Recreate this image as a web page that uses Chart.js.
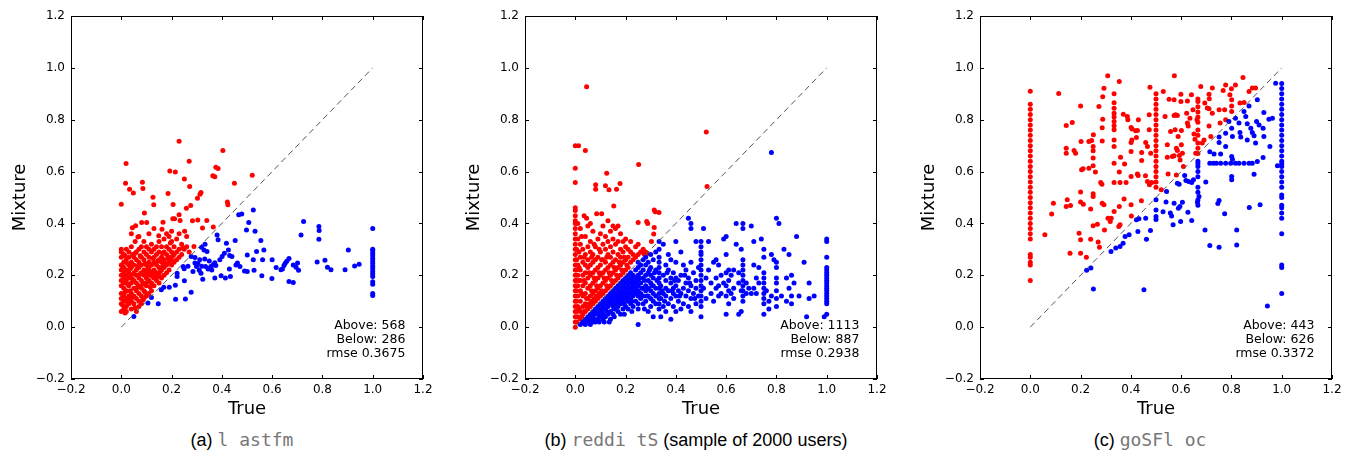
<!DOCTYPE html>
<html>
<head>
<meta charset="utf-8">
<script src="https://cdn.jsdelivr.net/npm/chart.js@4.4.1/dist/chart.umd.min.js"></script>
<style>
  body { margin: 0; background: #fff; overflow: hidden; }
  #page { position: relative; width: 1346px; height: 457px; }
  canvas { position: absolute; top: 0; }
  .cap { position: absolute; top: 429px; line-height: 24px; font: 18px "Liberation Sans", Arial, sans-serif; color: #000; transform: translateX(-50%); white-space: nowrap; }
  .cap .mono { font-family: "DejaVu Sans Mono", monospace; color: #777; font-weight: 300; }
</style>
</head>
<body>
<div id="page">
  <canvas id="chartA" width="450" height="425" style="left:0px"></canvas>
  <canvas id="chartB" width="450" height="425" style="left:454px"></canvas>
  <canvas id="chartC" width="450" height="425" style="left:909px"></canvas>
  <div class="cap" style="left:242px">(a) <span class="mono">l astfm</span></div>
  <div class="cap" style="left:696px">(b) <span class="mono">reddi tS</span> (sample of 2000 users)</div>
  <div class="cap" style="left:1150px">(c) <span class="mono">goSFl oc</span></div>
</div>
<script>
// axis ticks shared by all three panels
const tickValues = [-0.2, 0.0, 0.2, 0.4, 0.6, 0.8, 1.0, 1.2];
const diagonal = [0, 1];

const lastfmStats = ["Above: 568", "Below: 286", "rmse 0.3675"];
const redditStats = ["Above: 1113", "Below: 887", "rmse 0.2938"];
const locStats = ["Above: 443", "Below: 626", "rmse 0.3372"];

// (a) lastfm - points above the diagonal (red)
const lastfmAbove = [
  [0.00,0.06],[0.00,0.09],[0.00,0.11],[0.00,0.13],[0.00,0.16],[0.00,0.18],[0.00,0.20],[0.00,0.22],[0.00,0.24],[0.00,0.27],[0.00,0.29],[0.00,0.30],
  [0.01,0.07],[0.01,0.10],[0.01,0.12],[0.01,0.15],[0.01,0.17],[0.01,0.19],[0.01,0.21],[0.01,0.23],[0.01,0.25],[0.01,0.28],
  [0.02,0.06],[0.02,0.08],[0.02,0.11],[0.02,0.14],[0.02,0.18],[0.02,0.20],[0.02,0.22],[0.02,0.26],[0.02,0.30],
  [0.03,0.09],[0.03,0.12],[0.03,0.16],[0.03,0.19],[0.03,0.21],[0.03,0.24],[0.03,0.27],[0.03,0.29],[0.035,0.14],
  [0.04,0.07],[0.04,0.10],[0.04,0.13],[0.04,0.17],[0.04,0.20],[0.04,0.23],[0.04,0.25],[0.04,0.31],[0.045,0.28],
  [0.05,0.09],[0.05,0.12],[0.05,0.15],[0.05,0.18],[0.05,0.21],[0.05,0.24],[0.05,0.27],[0.055,0.33],
  [0.06,0.06],[0.06,0.11],[0.06,0.14],[0.06,0.17],[0.06,0.20],[0.06,0.22],[0.06,0.26],[0.06,0.29],
  [0.07,0.08],[0.07,0.10],[0.07,0.13],[0.07,0.16],[0.07,0.19],[0.07,0.23],[0.07,0.25],[0.07,0.30],[0.07,0.35],
  [0.08,0.09],[0.08,0.12],[0.08,0.15],[0.08,0.18],[0.08,0.21],[0.08,0.24],[0.08,0.27],[0.08,0.31],
  [0.09,0.11],[0.09,0.14],[0.09,0.17],[0.09,0.20],[0.09,0.22],[0.09,0.26],[0.09,0.29],[0.09,0.33],
  [0.10,0.12],[0.10,0.16],[0.10,0.19],[0.10,0.21],[0.10,0.24],[0.10,0.28],[0.10,0.31],
  [0.11,0.13],[0.11,0.18],[0.11,0.20],[0.11,0.23],[0.11,0.25],[0.11,0.27],[0.11,0.30],
  [0.12,0.14],[0.12,0.17],[0.12,0.21],[0.12,0.24],[0.12,0.29],[0.12,0.32],
  [0.13,0.16],[0.13,0.19],[0.13,0.22],[0.13,0.25],[0.13,0.27],[0.13,0.30],
  [0.14,0.18],[0.14,0.21],[0.14,0.24],[0.14,0.28],[0.14,0.31],
  [0.15,0.17],[0.15,0.20],[0.15,0.23],[0.15,0.26],[0.15,0.29],[0.15,0.33],
  [0.16,0.19],[0.16,0.22],[0.16,0.25],[0.16,0.27],[0.16,0.31],
  [0.17,0.20],[0.17,0.23],[0.17,0.26],[0.17,0.29],[0.17,0.34],
  [0.18,0.21],[0.18,0.24],[0.18,0.28],[0.18,0.31],[0.18,0.36],
  [0.19,0.22],[0.19,0.25],[0.19,0.27],[0.19,0.30],
  [0.20,0.24],[0.20,0.26],[0.20,0.29],[0.20,0.33],[0.20,0.37],
  [0.21,0.25],[0.21,0.28],[0.21,0.31],[0.22,0.26],[0.22,0.29],[0.22,0.34],
  [0.23,0.27],[0.23,0.30],[0.24,0.28],[0.24,0.32],[0.25,0.30],[0.26,0.31],[0.27,0.29],[0.26,0.35],
  [0.005,0.085],[0.015,0.135],[0.025,0.165],[0.005,0.235],[0.015,0.275],[0.025,0.245],[0.035,0.105],[0.045,0.185],
  [0.055,0.075],[0.065,0.155],[0.075,0.205],[0.085,0.105],[0.095,0.245],[0.105,0.175],[0.115,0.215],[0.125,0.265],
  [0.135,0.205],[0.145,0.255],[0.155,0.215],[0.165,0.285],[0.175,0.245],[0.185,0.265],[0.195,0.325],[0.205,0.275],
  [0.015,0.055],[0.035,0.225],[0.055,0.285],[0.075,0.275],[0.095,0.135],[0.045,0.115],[0.025,0.095],[0.065,0.235],
  [0.085,0.165],[0.105,0.225],[0.115,0.155],[0.125,0.195],[0.145,0.195],[0.165,0.235],
  [0.0,0.474],[0.019,0.631],[0.017,0.555],[0.033,0.532],[0.048,0.517],[0.084,0.559],[0.086,0.535],[0.092,0.44],
  [0.126,0.501],[0.129,0.472],[0.23,0.717],[0.193,0.602],[0.215,0.598],[0.186,0.515],[0.206,0.473],[0.251,0.571],
  [0.27,0.64],[0.272,0.542],[0.259,0.459],[0.276,0.469],[0.303,0.497],[0.313,0.513],[0.317,0.519],[0.364,0.584],
  [0.372,0.58],[0.376,0.617],[0.385,0.612],[0.404,0.681],[0.422,0.483],[0.424,0.472],[0.45,0.555],[0.521,0.586],
  [0.23,0.433],[0.234,0.411],[0.166,0.405],[0.162,0.378],[0.149,0.352],[0.283,0.41],[0.304,0.413],[0.34,0.411],
  [0.323,0.382],[0.366,0.386],[0.289,0.311],[0.252,0.37],[0.245,0.305],[0.044,0.383],[0.057,0.391],[0.081,0.404],
  [0.101,0.404],[0.066,0.348],[0.205,0.418],[0.212,0.418],[0.04,0.36],[0.11,0.36],[0.13,0.38],[0.19,0.35],[0.23,0.36]
];

// (a) lastfm - points below the diagonal (blue)
const lastfmBelow = [
  [0.05,0.041],[0.106,0.093],[0.147,0.09],[0.12,0.114],[0.159,0.144],[0.169,0.154],[0.191,0.154],[0.215,0.162],
  [0.216,0.108],[0.255,0.109],[0.278,0.135],[0.251,0.179],[0.222,0.208],[0.222,0.195],[0.246,0.234],[0.25,0.225],
  [0.278,0.272],[0.293,0.269],[0.293,0.247],[0.312,0.26],[0.299,0.234],[0.31,0.219],[0.317,0.208],[0.324,0.185],
  [0.319,0.308],[0.333,0.32],[0.329,0.298],[0.341,0.292],[0.332,0.263],[0.335,0.234],[0.345,0.224],[0.356,0.234],
  [0.365,0.24],[0.385,0.337],[0.381,0.355],[0.372,0.248],[0.376,0.238],[0.372,0.19],[0.392,0.26],[0.401,0.272],
  [0.41,0.285],[0.418,0.324],[0.426,0.298],[0.431,0.276],[0.44,0.272],[0.397,0.198],[0.414,0.19],[0.43,0.224],
  [0.434,0.195],[0.453,0.334],[0.467,0.433],[0.479,0.436],[0.456,0.24],[0.462,0.247],[0.472,0.234],[0.49,0.217],
  [0.501,0.215],[0.498,0.375],[0.507,0.404],[0.501,0.278],[0.525,0.452],[0.532,0.37],[0.538,0.292],[0.525,0.26],
  [0.528,0.219],[0.555,0.334],[0.559,0.198],[0.567,0.298],[0.562,0.26],[0.6,0.26],[0.599,0.188],[0.616,0.23],
  [0.635,0.221],[0.641,0.224],[0.647,0.238],[0.652,0.246],[0.658,0.254],[0.667,0.265],[0.667,0.176],[0.684,0.172],
  [0.684,0.24],[0.695,0.231],[0.701,0.247],[0.705,0.219],[0.715,0.355],[0.725,0.407],[0.779,0.251],[0.786,0.388],
  [0.787,0.373],[0.786,0.339],[0.81,0.258],[0.82,0.231],[0.834,0.221],[0.89,0.221],[0.903,0.298],[0.928,0.236],
  [0.946,0.243],[0.265,0.235],[0.285,0.215],[0.305,0.245],[0.32,0.235],[0.35,0.255],[0.36,0.22]
];
const lastfmBelowAtOne = [0.38,0.30,0.295,0.285,0.275,0.265,0.255,0.245,0.235,0.225,0.215,0.205,0.195,0.175,0.165,0.13,0.122];

// (b) redditS - above (red)
const redditAboveAtZero = [0.0,0.02,0.04,0.06,0.08,0.10,0.12,0.14,0.16,0.18,0.20,0.22,0.24,0.26,0.28,0.30,0.32,0.34,0.36,0.38,0.40,0.41,0.43,0.45,0.46];
const redditAbove = [
  [0.005,0.02],[0.005,0.06],[0.005,0.10],[0.005,0.14],[0.005,0.18],[0.005,0.22],[0.005,0.26],[0.005,0.30],
  [0.01,0.04],[0.01,0.08],[0.01,0.12],[0.01,0.16],[0.01,0.20],[0.01,0.24],[0.015,0.29],[0.01,0.34],[0.01,0.40],
  [0.02,0.03],[0.02,0.06],[0.02,0.10],[0.02,0.14],[0.02,0.18],[0.02,0.22],[0.02,0.27],[0.02,0.32],[0.02,0.38],
  [0.03,0.05],[0.03,0.08],[0.03,0.12],[0.03,0.16],[0.03,0.20],[0.03,0.25],[0.03,0.30],[0.035,0.43],
  [0.04,0.06],[0.04,0.09],[0.04,0.13],[0.04,0.17],[0.04,0.21],[0.04,0.24],[0.04,0.28],[0.04,0.35],[0.045,0.42],
  [0.05,0.07],[0.05,0.11],[0.05,0.15],[0.05,0.19],[0.05,0.23],[0.05,0.26],[0.05,0.31],[0.05,0.39],
  [0.06,0.08],[0.06,0.12],[0.06,0.16],[0.06,0.20],[0.06,0.24],[0.06,0.29],[0.06,0.33],[0.06,0.40],
  [0.07,0.09],[0.07,0.13],[0.07,0.17],[0.07,0.21],[0.07,0.25],[0.07,0.28],[0.07,0.37],
  [0.08,0.10],[0.08,0.14],[0.08,0.18],[0.08,0.22],[0.08,0.26],[0.08,0.31],[0.085,0.437],
  [0.09,0.11],[0.09,0.15],[0.09,0.19],[0.09,0.23],[0.09,0.27],[0.09,0.34],
  [0.10,0.12],[0.10,0.16],[0.10,0.20],[0.10,0.24],[0.10,0.29],[0.10,0.36],[0.105,0.437],
  [0.11,0.13],[0.11,0.17],[0.11,0.21],[0.11,0.26],[0.11,0.32],[0.11,0.39],
  [0.12,0.14],[0.12,0.18],[0.12,0.22],[0.12,0.25],[0.12,0.30],[0.12,0.35],
  [0.13,0.15],[0.13,0.19],[0.13,0.23],[0.13,0.28],[0.13,0.33],[0.13,0.41],
  [0.14,0.16],[0.14,0.20],[0.14,0.24],[0.14,0.27],[0.14,0.31],[0.14,0.37],
  [0.15,0.17],[0.15,0.21],[0.15,0.25],[0.15,0.29],[0.15,0.34],[0.15,0.39],
  [0.16,0.18],[0.16,0.22],[0.16,0.26],[0.16,0.32],[0.16,0.38],
  [0.17,0.19],[0.17,0.23],[0.17,0.28],[0.17,0.33],[0.17,0.39],
  [0.18,0.20],[0.18,0.24],[0.18,0.27],[0.18,0.30],[0.18,0.36],
  [0.19,0.21],[0.19,0.25],[0.19,0.29],[0.19,0.33],
  [0.20,0.22],[0.20,0.26],[0.20,0.31],[0.20,0.34],
  [0.21,0.23],[0.21,0.27],[0.21,0.30],[0.22,0.25],[0.22,0.29],[0.22,0.33],
  [0.23,0.26],[0.23,0.28],[0.24,0.27],[0.24,0.31],[0.25,0.28],[0.25,0.32],[0.26,0.29],[0.27,0.30],[0.28,0.29],
  [0.015,0.07],[0.025,0.13],[0.035,0.18],[0.045,0.11],[0.055,0.21],[0.065,0.14],[0.075,0.19],[0.085,0.12],
  [0.095,0.21],[0.105,0.14],[0.115,0.19],[0.125,0.16],[0.135,0.21],[0.145,0.18],[0.155,0.23],[0.165,0.20],
  [0.175,0.25],[0.185,0.22],[0.195,0.27],[0.205,0.24],[0.015,0.18],[0.025,0.04],[0.035,0.06],[0.045,0.08],
  [0.055,0.09],[0.065,0.10],[0.075,0.11],[0.085,0.16],[0.095,0.13],[0.015,0.23],[0.025,0.35],[0.035,0.27],
  [0.065,0.27],[0.075,0.32],[0.095,0.30],[0.105,0.26],[0.125,0.27],
  [0.045,0.927],[0.0,0.70],[0.013,0.70],[0.04,0.681],[0.0,0.613],[0.0,0.558],[0.125,0.594],[0.252,0.627],
  [0.081,0.549],[0.081,0.532],[0.12,0.545],[0.134,0.53],[0.164,0.532],[0.178,0.554],[0.153,0.467],[0.521,0.753],
  [0.524,0.542],[0.314,0.452],[0.318,0.445],[0.333,0.442],[0.25,0.404],[0.284,0.407],[0.288,0.40],[0.314,0.384],
  [0.312,0.359],[0.303,0.33],[0.274,0.281],[0.287,0.284]
];

// (b) redditS - below (blue)
const redditBelowAtThird = [0.07,0.09,0.11,0.13,0.15,0.17,0.19,0.21,0.23,0.25,0.27,0.30,0.33];
const redditBelowAtHalf = [0.04,0.08,0.10,0.12,0.14,0.16,0.18,0.20,0.22,0.24,0.26,0.28,0.29,0.31,0.33];
const redditBelowAtTwoThirds = [0.10,0.12,0.14,0.16,0.18,0.20,0.22,0.24,0.26,0.38,0.40];
const redditBelowAtThreeQuarters = [0.05,0.09,0.11,0.13,0.15,0.17,0.19,0.21,0.27,0.30];
const redditBelowAtOne = [0.05,0.09,0.10,0.11,0.12,0.13,0.14,0.15,0.16,0.17,0.18,0.19,0.20,0.21,0.22,0.23,0.27,0.33,0.34];
const redditBelow = [
  [0.02,0.01],[0.03,0.02],[0.04,0.01],[0.04,0.03],[0.05,0.02],[0.05,0.04],[0.06,0.01],[0.06,0.03],[0.06,0.05],
  [0.07,0.02],[0.07,0.04],[0.07,0.06],[0.08,0.02],[0.08,0.05],[0.08,0.07],[0.09,0.03],[0.09,0.06],[0.09,0.08],
  [0.10,0.04],[0.10,0.07],[0.10,0.09],[0.11,0.03],[0.11,0.05],[0.11,0.08],[0.11,0.10],[0.12,0.04],[0.12,0.07],
  [0.12,0.09],[0.12,0.11],[0.13,0.05],[0.13,0.08],[0.13,0.10],[0.13,0.12],[0.14,0.03],[0.14,0.06],[0.14,0.09],
  [0.14,0.11],[0.14,0.13],[0.15,0.05],[0.15,0.08],[0.15,0.10],[0.15,0.12],[0.15,0.14],[0.16,0.07],[0.16,0.09],
  [0.16,0.11],[0.16,0.13],[0.16,0.15],[0.17,0.06],[0.17,0.08],[0.17,0.10],[0.17,0.12],[0.17,0.14],[0.17,0.16],
  [0.18,0.05],[0.18,0.09],[0.18,0.11],[0.18,0.13],[0.18,0.15],[0.18,0.17],[0.19,0.07],[0.19,0.10],[0.19,0.12],
  [0.19,0.14],[0.19,0.16],[0.19,0.18],[0.20,0.08],[0.20,0.11],[0.20,0.13],[0.20,0.15],[0.20,0.17],[0.20,0.19],
  [0.21,0.07],[0.21,0.10],[0.21,0.12],[0.21,0.14],[0.21,0.16],[0.21,0.18],[0.21,0.20],[0.22,0.09],[0.22,0.11],
  [0.22,0.13],[0.22,0.15],[0.22,0.17],[0.22,0.19],[0.22,0.21],[0.23,0.08],[0.23,0.12],[0.23,0.14],[0.23,0.16],
  [0.23,0.18],[0.23,0.20],[0.24,0.10],[0.24,0.13],[0.24,0.15],[0.24,0.17],[0.24,0.19],[0.24,0.22],[0.25,0.01],
  [0.25,0.07],[0.25,0.09],[0.25,0.12],[0.25,0.14],[0.25,0.16],[0.25,0.18],[0.25,0.20],[0.25,0.23],[0.25,0.25],
  [0.26,0.11],[0.26,0.13],[0.26,0.17],[0.26,0.21],[0.26,0.24],[0.27,0.09],[0.27,0.12],[0.27,0.15],[0.27,0.19],
  [0.27,0.22],[0.27,0.26],[0.28,0.10],[0.28,0.14],[0.28,0.16],[0.28,0.20],[0.28,0.24],[0.28,0.27],[0.29,0.06],
  [0.29,0.12],[0.29,0.15],[0.29,0.18],[0.29,0.21],[0.29,0.25],[0.30,0.08],[0.30,0.11],[0.30,0.14],[0.30,0.17],
  [0.30,0.20],[0.30,0.23],[0.30,0.28],[0.31,0.04],[0.31,0.10],[0.31,0.13],[0.31,0.16],[0.31,0.19],[0.31,0.26],
  [0.32,0.09],[0.32,0.12],[0.32,0.15],[0.32,0.22],[0.32,0.29],
  [0.035,0.015],[0.055,0.03],[0.065,0.045],[0.075,0.03],[0.085,0.06],[0.095,0.045],[0.105,0.06],[0.115,0.09],
  [0.125,0.06],[0.135,0.09],[0.145,0.10],[0.155,0.07],[0.165,0.12],[0.175,0.11],[0.185,0.14],[0.195,0.09],
  [0.205,0.12],[0.215,0.15],[0.225,0.10],[0.235,0.17],[0.245,0.14],[0.255,0.19],[0.265,0.15],[0.275,0.18],
  [0.285,0.12],[0.295,0.22],[0.305,0.16],[0.315,0.21],[0.325,0.18],[0.345,0.14],[0.355,0.10],[0.365,0.21],
  [0.385,0.14],[0.395,0.18],[0.415,0.12],[0.435,0.20],[0.455,0.17],[0.475,0.11],[0.155,0.04],[0.195,0.05],
  [0.225,0.06],[0.275,0.07],[0.135,0.02],[0.115,0.02],[0.095,0.02],
  [0.34,0.04],[0.34,0.11],[0.34,0.16],[0.35,0.08],[0.35,0.13],[0.35,0.20],[0.35,0.32],[0.36,0.06],[0.36,0.12],
  [0.36,0.15],[0.36,0.18],[0.36,0.24],[0.37,0.09],[0.37,0.14],[0.37,0.22],[0.37,0.28],[0.38,0.03],[0.38,0.11],
  [0.38,0.17],[0.38,0.19],[0.38,0.26],[0.39,0.08],[0.39,0.13],[0.39,0.15],[0.39,0.21],[0.40,0.06],[0.40,0.12],
  [0.40,0.16],[0.40,0.19],[0.40,0.25],[0.40,0.33],[0.41,0.10],[0.41,0.14],[0.41,0.18],[0.42,0.07],[0.42,0.13],
  [0.42,0.20],[0.42,0.29],[0.43,0.09],[0.43,0.15],[0.43,0.24],[0.44,0.12],[0.44,0.17],[0.44,0.22],[0.45,0.08],
  [0.45,0.14],[0.45,0.19],[0.45,0.42],[0.46,0.06],[0.46,0.11],[0.46,0.16],[0.46,0.25],[0.46,0.38],[0.46,0.40],
  [0.47,0.13],[0.47,0.21],[0.48,0.09],[0.48,0.15],[0.48,0.18],[0.48,0.33],[0.49,0.12],[0.49,0.23],
  [0.51,0.15],[0.51,0.38],[0.52,0.11],[0.52,0.19],[0.53,0.22],[0.53,0.33],[0.54,0.13],[0.54,0.17],[0.55,0.10],
  [0.55,0.25],[0.56,0.15],[0.56,0.19],[0.56,0.26],[0.57,0.12],[0.57,0.16],[0.57,0.24],[0.58,0.13],[0.58,0.20],
  [0.59,0.17],[0.59,0.34],[0.60,0.05],[0.60,0.12],[0.60,0.16],[0.60,0.21],[0.60,0.28],[0.60,0.35],[0.61,0.09],
  [0.61,0.14],[0.61,0.18],[0.61,0.22],[0.62,0.13],[0.62,0.20],[0.63,0.11],[0.63,0.15],[0.63,0.22],[0.64,0.32],
  [0.64,0.40],[0.65,0.05],[0.65,0.17],[0.65,0.21],[0.66,0.06],[0.66,0.14],[0.66,0.30],
  [0.68,0.13],[0.68,0.17],[0.69,0.15],[0.70,0.13],[0.70,0.39],[0.71,0.15],[0.71,0.24],[0.71,0.33],[0.72,0.19],
  [0.72,0.13],[0.73,0.17],[0.73,0.23],[0.74,0.34],
  [0.76,0.14],[0.77,0.07],[0.77,0.10],[0.78,0.674],[0.78,0.12],[0.78,0.28],[0.79,0.26],[0.80,0.08],[0.80,0.11],
  [0.80,0.14],[0.80,0.17],[0.80,0.19],[0.80,0.23],[0.80,0.25],[0.80,0.42],[0.81,0.40],[0.82,0.12],[0.83,0.30],
  [0.84,0.10],[0.84,0.19],[0.85,0.15],[0.85,0.28],[0.86,0.09],[0.86,0.20],[0.86,0.12],[0.87,0.17],[0.88,0.35],
  [0.89,0.12],[0.91,0.25],[0.92,0.04],[0.93,0.11],[0.93,0.17],[0.95,0.12],[0.99,0.04]
];

// (c) goSFloc - above (red)
const locAboveAtZero = [0.18,0.24,0.25,0.27,0.28,0.34,0.36,0.38,0.40,0.42,0.44,0.46,0.48,0.50,0.52,0.54,0.56,0.58,0.60,0.62,0.64,0.66,0.68,0.70,0.72,0.74,0.76,0.78,0.80,0.82,0.84,0.86,0.91];
const locAboveAtQuarter = [0.697,0.68,0.652,0.622,0.514,0.504,0.391];
const locAboveAtThird = [0.90,0.865,0.844,0.825,0.81,0.793,0.777,0.761,0.722,0.697,0.632,0.558,0.446];
const locAboveAtHalf = [0.90,0.88,0.86,0.84,0.82,0.80,0.78,0.76,0.74,0.72,0.70,0.68,0.66,0.64,0.62,0.60,0.58,0.56,0.54];
const locAboveAtTwoThirds = [0.88,0.87,0.85,0.83,0.81,0.79,0.76,0.74,0.71,0.69,0.67];
const locAbove = [
  [0.058,0.356],[0.092,0.478],[0.085,0.436],[0.113,0.901],[0.143,0.778],[0.167,0.789],[0.143,0.69],[0.143,0.671],
  [0.147,0.491],[0.143,0.465],[0.16,0.469],[0.158,0.285],[0.174,0.681],[0.18,0.671],[0.2,0.853],[0.202,0.716],
  [0.204,0.607],[0.21,0.611],[0.2,0.521],[0.2,0.483],[0.211,0.474],[0.194,0.362],[0.2,0.337],[0.2,0.285],
  [0.223,0.27],[0.233,0.716],[0.244,0.72],[0.233,0.613],[0.24,0.456],[0.24,0.339],[0.251,0.742],[0.259,0.598],
  [0.267,0.397],[0.27,0.328],[0.275,0.308],[0.273,0.851],[0.28,0.558],[0.285,0.551],[0.286,0.769],[0.288,0.802],
  [0.286,0.718],[0.288,0.889],[0.293,0.921],[0.308,0.97],[0.286,0.478],[0.293,0.472],[0.295,0.375],[0.309,0.42],
  [0.318,0.407],[0.322,0.42],[0.354,0.947],[0.359,0.655],[0.354,0.598],[0.357,0.558],[0.354,0.465],[0.357,0.395],
  [0.352,0.388],[0.37,0.821],[0.386,0.812],[0.388,0.80],[0.375,0.629],[0.381,0.558],[0.373,0.494],[0.401,0.77],
  [0.405,0.764],[0.401,0.712],[0.404,0.722],[0.401,0.677],[0.401,0.581],[0.401,0.472],[0.402,0.429],[0.419,0.757],
  [0.426,0.758],[0.43,0.80],[0.422,0.731],[0.426,0.591],[0.429,0.585],[0.443,0.674],[0.443,0.643],[0.442,0.487],
  [0.459,0.712],[0.466,0.697],[0.458,0.584],[0.466,0.562],[0.474,0.549],[0.473,0.819],[0.476,0.925],[0.473,0.761],
  [0.479,0.671],[0.483,0.558],[0.521,0.53],[0.529,0.909],[0.536,0.812],[0.545,0.703],[0.545,0.655],[0.548,0.591],
  [0.552,0.879],[0.572,0.877],[0.558,0.755],[0.565,0.658],[0.572,0.661],[0.573,0.97],[0.572,0.816],[0.578,0.819],
  [0.585,0.816],[0.576,0.761],[0.581,0.69],[0.585,0.681],[0.581,0.587],[0.588,0.735],[0.593,0.662],[0.596,0.645],
  [0.599,0.898],[0.599,0.87],[0.601,0.758],[0.601,0.703],[0.605,0.671],[0.609,0.62],[0.625,0.872],[0.622,0.825],
  [0.625,0.787],[0.628,0.776],[0.635,0.806],[0.641,0.896],[0.647,0.838],[0.651,0.745],[0.655,0.725],[0.658,0.671],
  [0.663,0.80],[0.678,0.928],[0.684,0.71],[0.691,0.722],[0.694,0.864],[0.704,0.845],[0.711,0.842],[0.711,0.898],
  [0.712,0.881],[0.724,0.922],[0.711,0.776],[0.718,0.735],[0.724,0.825],[0.751,0.838],[0.755,0.787],[0.767,0.913],
  [0.777,0.934],[0.773,0.838],[0.777,0.80],[0.794,0.896],[0.80,0.919],[0.801,0.877],[0.801,0.853],[0.801,0.832],
  [0.816,0.934],[0.834,0.864],[0.85,0.866],[0.846,0.963],[0.87,0.909],[0.883,0.922],[0.896,0.922]
];

// (c) goSFloc - below (blue)
const locBelowAtTwoThirds = [0.64,0.63,0.62,0.60,0.58,0.54,0.52,0.49,0.47];
const locBelowAtOne = [0.13,0.23,0.24,0.36,0.42,0.44,0.46,0.47,0.50,0.51,0.54,0.56,0.58,0.60,0.62,0.63,0.64,0.66,0.68,0.70,0.72,0.74,0.76,0.78,0.80,0.82,0.84,0.86,0.88,0.90,0.92,0.94];
const locBelow = [
  [0.251,0.147],[0.452,0.144],[0.943,0.082],[0.224,0.219],[0.241,0.228],[0.321,0.292],[0.34,0.305],[0.357,0.311],
  [0.369,0.324],[0.377,0.35],[0.393,0.356],[0.422,0.414],[0.432,0.418],[0.428,0.369],[0.462,0.339],[0.478,0.373],
  [0.459,0.42],[0.5,0.491],[0.5,0.452],[0.5,0.427],[0.5,0.415],[0.528,0.445],[0.542,0.523],[0.54,0.483],
  [0.557,0.44],[0.562,0.429],[0.568,0.395],[0.572,0.478],[0.585,0.555],[0.592,0.551],[0.589,0.459],[0.595,0.465],
  [0.598,0.407],[0.605,0.482],[0.614,0.585],[0.619,0.566],[0.63,0.562],[0.642,0.558],[0.627,0.443],[0.642,0.411],
  [0.649,0.568],[0.665,0.482],[0.671,0.504],[0.695,0.375],[0.698,0.56],[0.714,0.632],[0.728,0.632],[0.74,0.632],
  [0.757,0.632],[0.777,0.632],[0.797,0.632],[0.816,0.632],[0.83,0.632],[0.85,0.632],[0.87,0.632],[0.883,0.632],
  [0.714,0.315],[0.751,0.308],[0.746,0.477],[0.751,0.488],[0.773,0.437],[0.821,0.375],[0.821,0.317],[0.871,0.461],
  [0.914,0.472],[0.714,0.676],[0.731,0.668],[0.751,0.733],[0.751,0.712],[0.757,0.668],[0.777,0.748],[0.777,0.697],
  [0.79,0.793],[0.801,0.767],[0.804,0.735],[0.801,0.658],[0.804,0.648],[0.801,0.581],[0.801,0.568],[0.816,0.806],
  [0.83,0.787],[0.834,0.751],[0.837,0.733],[0.85,0.832],[0.857,0.812],[0.863,0.784],[0.87,0.853],[0.877,0.767],
  [0.883,0.751],[0.863,0.722],[0.89,0.738],[0.896,0.71],[0.903,0.877],[0.90,0.793],[0.91,0.78],[0.89,0.59],
  [0.903,0.639],[0.926,0.767],[0.929,0.735],[0.926,0.654],[0.929,0.828],[0.949,0.802],[0.963,0.806],[0.953,0.697],
  [0.976,0.941],[0.983,0.622]
];

function pts(list) { return list.map(p => ({ x: p[0], y: p[1] })); }
function column(x, ys) { return ys.map(y => ({ x: x, y: y })); }
function fmt(v) {
  if (Math.abs(v) < 1e-9) v = 0;
  return v.toFixed(1).replace('-', '\u2212');
}

const frameTicks = {
  id: 'frameTicks',
  afterDatasetsDraw(chart, args, opts) {
    const { ctx, chartArea: a, scales: { x, y } } = chart;
    ctx.save();
    ctx.strokeStyle = '#000';
    ctx.lineWidth = 1;
    ctx.beginPath();
    tickValues.forEach(v => {
      const px = Math.round(x.getPixelForValue(v)) + 0.5;
      ctx.moveTo(px, a.bottom); ctx.lineTo(px, a.bottom - 4);
      ctx.moveTo(px, a.top); ctx.lineTo(px, a.top + 4);
      const py = Math.round(y.getPixelForValue(v)) + 0.5;
      ctx.moveTo(a.left, py); ctx.lineTo(a.left + 4, py);
      ctx.moveTo(a.right, py); ctx.lineTo(a.right - 4, py);
    });
    ctx.stroke();
    ctx.strokeRect(a.left + 0.5, a.top + 0.5, a.right - a.left - 1, a.bottom - a.top - 1);
    ctx.font = '12.5px "DejaVu Sans"';
    ctx.textAlign = 'right';
    ctx.textBaseline = 'middle';
    ctx.fillStyle = '#000';
    const tx = a.left + 0.95 * (a.right - a.left);
    opts.lines.forEach((t, i) => ctx.fillText(t, tx, a.bottom - 53 + i * 14));
    ctx.restore();
  }
};

function makePanel(id, above, below, stats) {
  new Chart(document.getElementById(id), {
    type: 'scatter',
    data: {
      datasets: [
        { data: diagonal.map(v => ({ x: v, y: v })), type: 'line', borderColor: '#555', borderWidth: 1,
          borderDash: [6, 4], pointRadius: 0, order: 0 },
        { data: below, backgroundColor: '#0000ff', borderWidth: 0, pointRadius: 2.5, order: 1 },
        { data: above, backgroundColor: '#ff0000', borderWidth: 0, pointRadius: 2.5, order: 2 }
      ]
    },
    options: {
      responsive: false,
      animation: false,
      devicePixelRatio: 1,
      layout: { padding: { top: 16, right: 27, left: 0, bottom: 0 } },
      plugins: { legend: { display: false }, tooltip: { enabled: false }, frameTicks: { lines: stats } },
      scales: {
        x: {
          type: 'linear', min: -0.2, max: 1.2,
          afterBuildTicks: s => { s.ticks = tickValues.map(v => ({ value: v })); },
          afterFit: s => { s.height = 46; },
          grid: { display: false, drawTicks: false },
          border: { display: false },
          ticks: { padding: 4, color: '#000', font: { family: 'DejaVu Sans', size: 12 }, callback: v => fmt(v), maxRotation: 0 },
          title: { display: true, text: 'True', color: '#000', font: { family: 'DejaVu Sans', size: 18 }, padding: { top: 0, bottom: 5 } }
        },
        y: {
          type: 'linear', min: -0.2, max: 1.2,
          afterBuildTicks: s => { s.ticks = tickValues.map(v => ({ value: v })); },
          afterFit: s => { s.width = 71; },
          grid: { display: false, drawTicks: false },
          border: { display: false },
          ticks: { padding: 6, color: '#000', font: { family: 'DejaVu Sans', size: 12 }, callback: v => fmt(v) },
          title: { display: true, text: 'Mixture', color: '#000', font: { family: 'DejaVu Sans', size: 18 }, padding: { top: 10, bottom: 0 } }
        }
      }
    },
    plugins: [frameTicks]
  });
}

makePanel('chartA', pts(lastfmAbove), pts(lastfmBelow).concat(column(1.0, lastfmBelowAtOne)), lastfmStats);
makePanel('chartB', column(0.0, redditAboveAtZero).concat(pts(redditAbove)),
  pts(redditBelow).concat(column(1 / 3, redditBelowAtThird), column(0.5, redditBelowAtHalf),
    column(2 / 3, redditBelowAtTwoThirds), column(0.75, redditBelowAtThreeQuarters), column(1.0, redditBelowAtOne)),
  redditStats);
makePanel('chartC',
  column(0.0, locAboveAtZero).concat(column(0.25, locAboveAtQuarter), column(1 / 3, locAboveAtThird),
    column(0.5, locAboveAtHalf), column(2 / 3, locAboveAtTwoThirds), pts(locAbove)),
  column(2 / 3, locBelowAtTwoThirds).concat(column(1.0, locBelowAtOne), pts(locBelow)),
  locStats);
</script>
</body>
</html>
